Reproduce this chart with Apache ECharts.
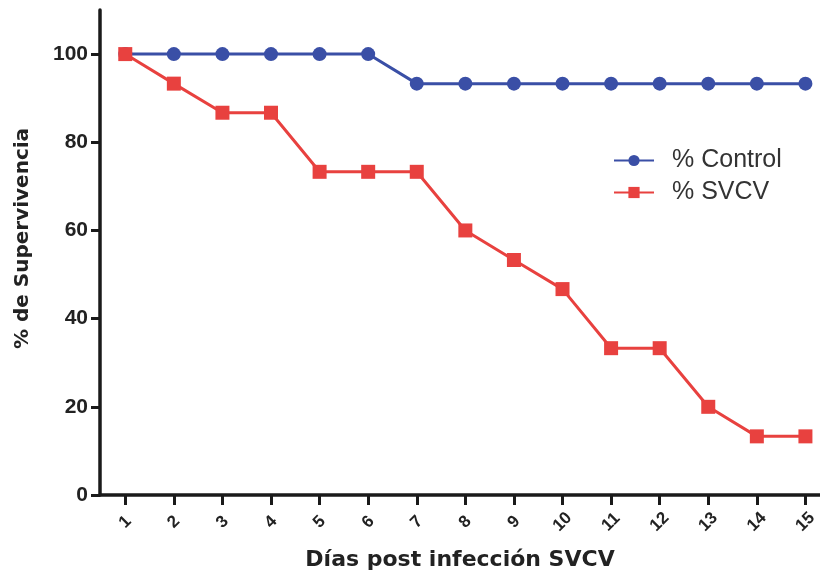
<!DOCTYPE html>
<html>
<head>
<meta charset="utf-8">
<script src="https://cdn.jsdelivr.net/npm/echarts@6/dist/echarts.min.js"></script>
<style>html,body{margin:0;padding:0;background:#fff;}#c{width:820px;height:573px;}</style>
</head>
<body>
<div id="c"></div>
<script>
var days = [1,2,3,4,5,6,7,8,9,10,11,12,13,14,15];
var control = [100,100,100,100,100,100,93.3,93.3,93.3,93.3,93.3,93.3,93.3,93.3,93.3];
var svcv = [100,93.3,86.7,86.7,73.3,73.3,73.3,60,53.3,46.7,33.3,33.3,20,13.3,13.3];
var yTicks = [0,20,40,60,80,100];

function pairs(xs, ys){ return xs.map(function(x,i){return [x, ys[i]];}); }

var chart = echarts.init(document.getElementById('c'));
chart.setOption({
  animation: false,
  textStyle: {fontFamily: 'Liberation Sans'},
  grid: {left: 100, right: 0, top: 10, bottom: 78, containLabel: false, outerBoundsMode: 'none'},
  legend: {
    orient: 'vertical', left: 608, top: 143, itemGap: 7, itemWidth: 40, itemHeight: 14,
    textStyle: {fontSize: 25, color: '#333', fontFamily: 'Liberation Sans', padding: [0,0,0,13]},
    data: ['% Control', '% SVCV']
  },
  xAxis: {
    type: 'value', min: 0.48, max: 15.3,
    name: 'Días post infección SVCV', nameLocation: 'middle', nameGap: 54,
    nameTextStyle: {fontSize: 22, fontWeight: 'bold', color: '#222', fontFamily: 'DejaVu Sans'},
    axisLine: {onZero: false, lineStyle: {color: '#1a1a1a', width: 3.5}},
    axisTick: {show: true, length: 10, lineStyle: {color: '#1a1a1a', width: 3}, customValues: days},
    axisLabel: {rotate: 45, align: 'center', verticalAlign: 'middle', fontSize: 17, fontWeight: 'bold', color: '#222', margin: 27, customValues: days},
    splitLine: {show: false}
  },
  yAxis: {
    type: 'value', min: 0, max: 110,
    name: '% de Supervivencia', nameLocation: 'middle', nameGap: 67,
    nameTextStyle: {fontSize: 20, fontWeight: 'bold', color: '#222', fontFamily: 'DejaVu Sans', padding: [0,0,0,28]},
    axisLine: {show: true, lineStyle: {color: '#1a1a1a', width: 3.5}},
    axisTick: {show: true, length: 9, lineStyle: {color: '#1a1a1a', width: 3}, customValues: yTicks},
    axisLabel: {fontSize: 21, fontWeight: 'bold', color: '#222', margin: 12, customValues: yTicks},
    splitLine: {show: false}
  },
  series: [
    {
      name: '% Control', type: 'line', data: pairs(days, control),
      symbol: 'circle', symbolSize: 14,
      lineStyle: {color: '#3a4fa6', width: 3},
      itemStyle: {color: '#3a4fa6'}
    },
    {
      name: '% SVCV', type: 'line', data: pairs(days, svcv),
      symbol: 'rect', symbolSize: 14,
      lineStyle: {color: '#e8413f', width: 3},
      itemStyle: {color: '#e8413f'}
    }
  ]
});
</script>
</body>
</html>
